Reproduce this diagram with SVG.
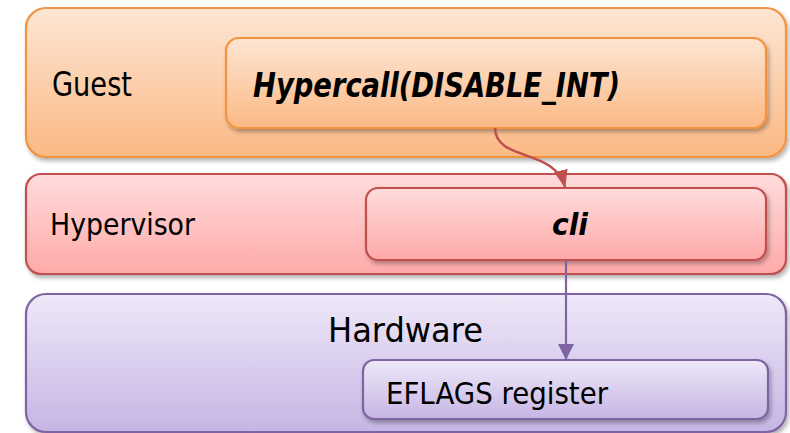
<svg xmlns="http://www.w3.org/2000/svg" width="790" height="433" viewBox="0 0 790 433">
  <defs>
    <linearGradient id="gOrange" x1="0" y1="0" x2="0" y2="1">
      <stop offset="0" stop-color="#FDE6D4"/>
      <stop offset="1" stop-color="#FBB984"/>
    </linearGradient>
    <linearGradient id="gRed" x1="0" y1="0" x2="0" y2="1">
      <stop offset="0" stop-color="#FFDCDC"/>
      <stop offset="1" stop-color="#FFA9A9"/>
    </linearGradient>
    <linearGradient id="gPurple" x1="0" y1="0" x2="0" y2="1">
      <stop offset="0" stop-color="#EEE8F8"/>
      <stop offset="1" stop-color="#C6B5E4"/>
    </linearGradient>
    <filter id="shadow" x="-5%" y="-10%" width="112%" height="130%">
      <feDropShadow dx="2" dy="3" stdDeviation="2" flood-color="#000" flood-opacity="0.3"/>
    </filter>
    <marker id="headRed" markerUnits="userSpaceOnUse" markerWidth="18" markerHeight="18" viewBox="0 0 18 18" refX="17" refY="9" orient="auto">
      <path d="M0,2 L18,9 L0,16 Z" fill="#C0504D"/>
    </marker>
    <marker id="headPurple" markerUnits="userSpaceOnUse" markerWidth="16" markerHeight="16" viewBox="0 0 16 16" refX="15" refY="8" orient="auto">
      <path d="M0,0 L16,8 L0,16 Z" fill="#8064A2"/>
    </marker>
  </defs>
  <style>
    .box { stroke-width: 2.2; filter: url(#shadow); }
    .orange { fill: url(#gOrange); stroke: #F4923F; }
    .red { fill: url(#gRed); stroke: #C0504D; }
    .purple { fill: url(#gPurple); stroke: #8064A2; }
    .lbl { font-family: "DejaVu Sans Condensed", "DejaVu Sans", sans-serif; fill: #000; }
    .em { font-weight: bold; font-style: italic; }
    .conn { fill: none; }
  </style>

  <g id="guest">
    <rect class="box orange" x="26" y="8" width="760" height="149" rx="20"/>
    <text class="lbl" x="52" y="96" font-size="33" textLength="80" lengthAdjust="spacingAndGlyphs">Guest</text>
  </g>
  <g id="hypercall">
    <rect class="box orange" x="226" y="38" width="540" height="90" rx="13"/>
    <text class="lbl em" x="253" y="97" font-size="33" textLength="367" lengthAdjust="spacingAndGlyphs">Hypercall(DISABLE_INT)</text>
  </g>

  <g id="hypervisor">
    <rect class="box red" x="26" y="174" width="760" height="100" rx="15"/>
    <text class="lbl" x="50" y="235" font-size="30.5" textLength="145" lengthAdjust="spacingAndGlyphs">Hypervisor</text>
  </g>
  <g id="cli">
    <rect class="box red" x="366" y="188" width="400" height="72" rx="12"/>
    <text class="lbl em" x="552" y="235" font-size="30.5" textLength="36" lengthAdjust="spacingAndGlyphs">cli</text>
  </g>

  <g id="hardware">
    <rect class="box purple" x="26" y="294" width="760" height="138" rx="20"/>
    <text class="lbl" x="328" y="342" font-size="34.5" textLength="155" lengthAdjust="spacingAndGlyphs">Hardware</text>
  </g>
  <g id="eflags">
    <rect class="box purple" x="363" y="360" width="405" height="59" rx="11"/>
    <text class="lbl" x="386" y="404" font-size="29.5" textLength="222" lengthAdjust="spacingAndGlyphs">EFLAGS register</text>
  </g>

  <g id="connectors">
    <path class="conn" d="M495,128 C496,162 555,148 565,187" stroke="#C0504D" stroke-width="2.5" marker-end="url(#headRed)"/>
    <path class="conn" d="M566,260 L566,359" stroke="#8064A2" stroke-width="2.2" marker-end="url(#headPurple)"/>
  </g>
</svg>
